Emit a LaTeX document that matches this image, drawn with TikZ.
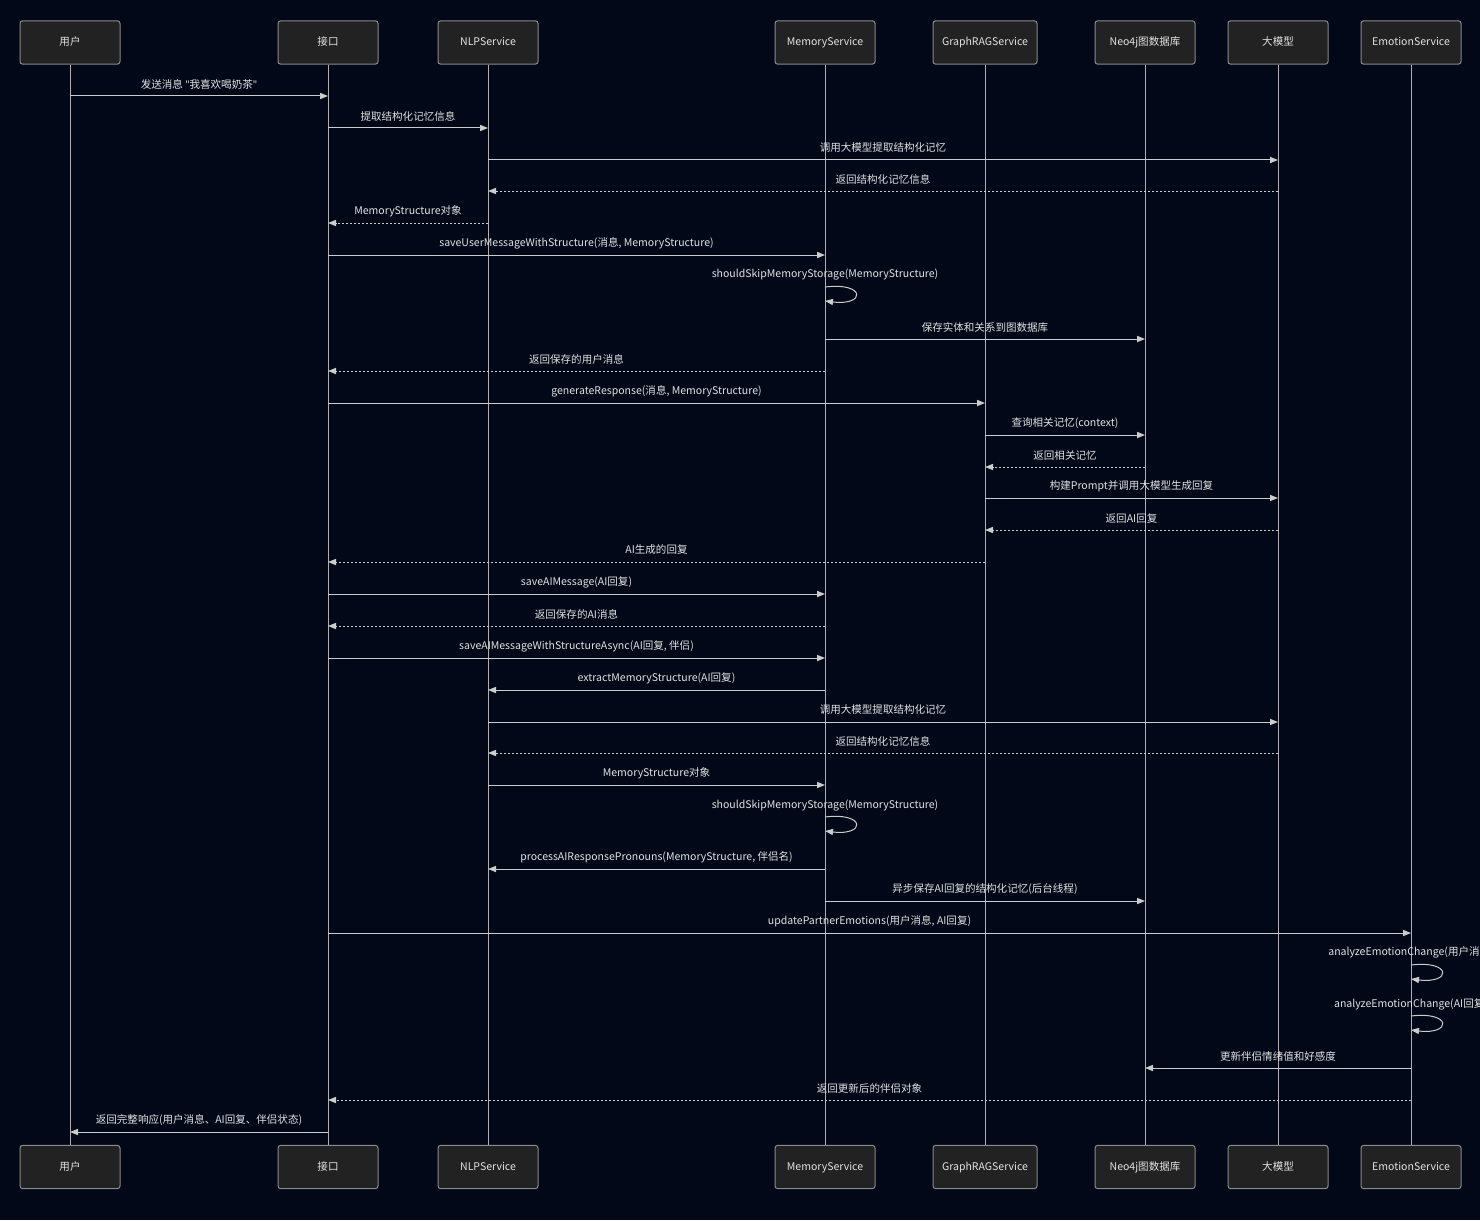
\documentclass[tikz,border=0pt]{standalone}
\usepackage{fontspec}
\setmainfont{Noto Sans CJK SC}
\newfontfamily\quotefont{Noto Sans}
\usetikzlibrary{arrows.meta}
\definecolor{bg}{HTML}{020817}
\definecolor{boxfill}{HTML}{222222}
\definecolor{boxline}{HTML}{8A8A8A}
\definecolor{lineC}{HTML}{CCCCCC}
\definecolor{lifeC}{HTML}{B0B0B0}
\definecolor{txt}{HTML}{E2E2E2}
\newcommand\seqmsg[5][]{%
  \draw[msg,#1] (#2 |- 0,#4) -- (#3 |- 0,#4) node[lbl, midway, yshift=9pt]{#5};}
\newcommand\dq{{\quotefont\char"0022}}
\begin{document}
\begin{tikzpicture}[x=0.75pt,y=-0.75pt,
  actor/.style={draw=boxline, fill=boxfill, rounded corners=2pt, minimum width=75pt,
    minimum height=32.5pt, text=txt, font=\fontsize{7.9}{9}\selectfont, inner sep=0pt,
    text height=6.2pt, text depth=1.6pt, line width=0.75pt},
  life/.style={draw=lifeC, line width=0.75pt},
  msg/.style={draw=lineC, line width=0.75pt, -{Triangle[length=6pt,width=4.6pt]}},
  ret/.style={dash pattern=on 1.5pt off 1.5pt},
  lbl/.style={text=txt, font=\fontsize{7.9}{9}\selectfont, inner sep=0pt}]
\useasboundingbox[fill=bg] (0,0) rectangle (1480,1220);
% actors top
\node[actor] (u) at (70,42.5) {用户};
\node[actor] (api) at (328,42.5) {接口};
\node[actor] (nlp) at (488,42.5) {NLPService};
\node[actor] (mem) at (825,42.5) {MemoryService};
\node[actor, minimum width=78pt] (rag) at (985,42.5) {GraphRAGService};
\node[actor] (neo) at (1145,42.5) {Neo4j图数据库};
\node[actor] (llm) at (1278,42.5) {大模型};
\node[actor] (emo) at (1411,42.5) {EmotionService};
% actors bottom
\node[actor] (ub) at (70,1167) {用户};
\node[actor] (apib) at (328,1167) {接口};
\node[actor] (nlpb) at (488,1167) {NLPService};
\node[actor] (memb) at (825,1167) {MemoryService};
\node[actor, minimum width=78pt] (ragb) at (985,1167) {GraphRAGService};
\node[actor] (neob) at (1145,1167) {Neo4j图数据库};
\node[actor] (llmb) at (1278,1167) {大模型};
\node[actor] (emob) at (1411,1167) {EmotionService};
% lifelines
\foreach \a in {u,api,nlp,mem,rag,neo,llm,emo}{\draw[life] (\a.south) -- (\a b.north);}
% messages
\seqmsg{u}{api}{96}{发送消息 \dq 我喜欢喝奶茶\dq}
\seqmsg{api}{nlp}{128}{提取结构化记忆信息}
\seqmsg{nlp}{llm}{160}{调用大模型提取结构化记忆}
\seqmsg[ret]{llm}{nlp}{191}{返回结构化记忆信息}
\seqmsg[ret]{nlp}{api}{223}{MemoryStructure对象}
\seqmsg{api}{mem}{255}{saveUserMessageWithStructure(消息, MemoryStructure)}
\node[lbl] (l1) at (mem |- 0,275) {shouldSkipMemoryStorage(MemoryStructure)};
\coordinate (s1a) at (mem |- 0,287); \coordinate (s1b) at (mem |- 0,301);
\draw[msg] (s1a) .. controls +(41,-5) and +(41,5) .. (s1b);
\seqmsg{mem}{neo}{339}{保存实体和关系到图数据库}
\seqmsg[ret]{mem}{api}{371}{返回保存的用户消息}
\seqmsg{api}{rag}{403}{generateResponse(消息, MemoryStructure)}
\seqmsg{rag}{neo}{435}{查询相关记忆(context)}
\seqmsg[ret]{neo}{rag}{467}{返回相关记忆}
\seqmsg{rag}{llm}{498}{构建Prompt并调用大模型生成回复}
\seqmsg[ret]{llm}{rag}{530}{返回AI回复}
\seqmsg[ret]{rag}{api}{562}{AI生成的回复}
\seqmsg{api}{mem}{594}{saveAIMessage(AI回复)}
\seqmsg[ret]{mem}{api}{626}{返回保存的AI消息}
\seqmsg{api}{mem}{658}{saveAIMessageWithStructureAsync(AI回复, 伴侣)}
\seqmsg{mem}{nlp}{690}{extractMemoryStructure(AI回复)}
\seqmsg{nlp}{llm}{722}{调用大模型提取结构化记忆}
\seqmsg[ret]{llm}{nlp}{753}{返回结构化记忆信息}
\seqmsg{nlp}{mem}{785}{MemoryStructure对象}
\node[lbl] (l2) at (mem |- 0,805) {shouldSkipMemoryStorage(MemoryStructure)};
\coordinate (s2a) at (mem |- 0,817); \coordinate (s2b) at (mem |- 0,831);
\draw[msg] (s2a) .. controls +(41,-5) and +(41,5) .. (s2b);
\seqmsg{mem}{nlp}{869}{processAIResponsePronouns(MemoryStructure, 伴侣名)}
\seqmsg{mem}{neo}{901}{异步保存AI回复的结构化记忆(后台线程)}
\seqmsg{api}{emo}{933}{updatePartnerEmotions(用户消息, AI回复)}
\node[lbl] (l3) at (emo |- 0,952) {analyzeEmotionChange(用户消息)};
\coordinate (s3a) at (emo |- 0,965); \coordinate (s3b) at (emo |- 0,979);
\draw[msg] (s3a) .. controls +(41,-5) and +(41,5) .. (s3b);
\node[lbl] (l4) at (emo |- 0,1004) {analyzeEmotionChange(AI回复)};
\coordinate (s4a) at (emo |- 0,1016); \coordinate (s4b) at (emo |- 0,1030);
\draw[msg] (s4a) .. controls +(41,-5) and +(41,5) .. (s4b);
\seqmsg{emo}{neo}{1068}{更新伴侣情绪值和好感度}
\seqmsg[ret]{emo}{api}{1100}{返回更新后的伴侣对象}
\seqmsg{api}{u}{1132}{返回完整响应(用户消息、AI回复、伴侣状态)}
\end{tikzpicture}
\end{document}
